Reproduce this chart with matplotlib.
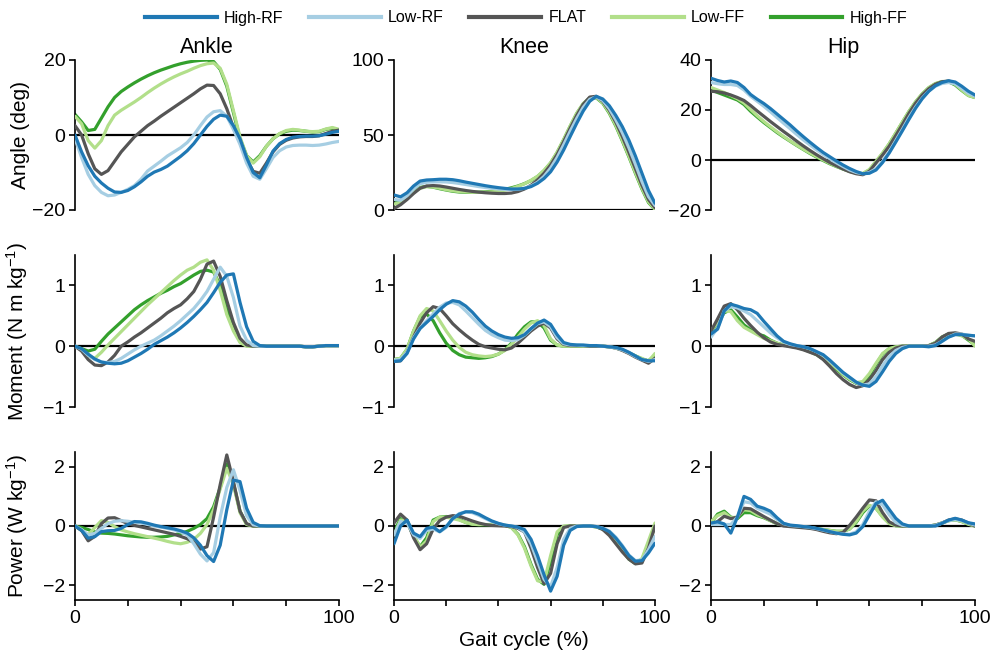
import numpy as np
import matplotlib
matplotlib.use("Agg")
import matplotlib.pyplot as plt
from matplotlib.lines import Line2D

plt.rcParams['font.family'] = ['Liberation Sans', 'DejaVu Sans']
plt.rcParams['mathtext.default'] = 'regular'

# gait cycle sampling (%), every 2.5 %
GAIT = np.arange(0, 100.01, 2.5)

CONDITIONS = ["High-RF", "Low-RF", "FLAT", "Low-FF", "High-FF"]
COLORS = {"High-RF": "#1f78b4", "Low-RF": "#a6cee3", "FLAT": "#555555",
          "Low-FF": "#b2df8a", "High-FF": "#33a02c"}

# ---- Ankle angle (deg)
ANKLE_ANGLE_HIGH_RF = [0, -4.5, -8.2, -11, -12.8, -14.2, -15.2, -15.3, -14.8, -13.8, -12.5, -11, -9.9, -9.2, -8.3, -7, -5.7, -4.2, -2.3, 0, 2.3,
                       4.2, 5.3, 5, 2.5, -1, -6, -10, -11.4, -8, -4.3, -2.3, -1.2, -0.6, -0.4, -0.3, -0.3, -0.2, 0.2, 0.7, 1]
ANKLE_ANGLE_LOW_RF = [-1, -6, -10.5, -13.5, -15.3, -16.2, -16, -15.3, -14.5, -13.5, -11.8, -9.6, -8.3, -7, -5.6, -4.5, -3.4, -2, 0, 2.5, 4.8,
                      6.2, 6.5, 5, 1.5, -2.5, -7.5, -11, -11.8, -9, -6, -4.2, -3.2, -2.8, -2.7, -2.7, -2.8, -2.7, -2.4, -2, -1.7]
ANKLE_ANGLE_FLAT = [2.5, 0, -5, -9, -10.5, -9.5, -7, -4.5, -2.5, -0.5, 1, 2.5, 3.7, 5, 6.2, 7.4, 8.6, 9.8, 11, 12.3, 13.3,
                    13.2, 11, 7, 2, -2, -6.5, -9.7, -10.2, -7.5, -4.5, -2.5, -1.4, -0.8, -0.5, -0.4, -0.4, -0.2, 0.4, 1, 1.3]
ANKLE_ANGLE_LOW_FF = [5, 3, -1.5, -3.5, -1.5, 2.5, 5.3, 6.6, 7.7, 8.8, 10, 11.3, 12.5, 13.6, 14.6, 15.5, 16.3, 17, 17.8, 18.5, 19,
                      19.2, 17.8, 13.5, 6.5, -0.5, -5.5, -7.5, -5.8, -3, -1, 0.4, 1.2, 1.5, 1.3, 1, 0.9, 1, 1.6, 2, 1.5]
ANKLE_ANGLE_HIGH_FF = [5.5, 3.5, 1.2, 1.5, 4.5, 7.5, 10, 11.6, 12.8, 13.9, 14.9, 15.8, 16.6, 17.3, 17.9, 18.5, 19, 19.4, 19.7, 19.9, 20,
                       19.6, 17.5, 13, 6, -1, -5.5, -7.2, -5.5, -3, -1, 0.3, 1, 1.3, 1.2, 1, 0.8, 0.9, 1.5, 1.8, 1.3]

# ---- Knee angle (deg)
KNEE_ANGLE_HIGH_RF = [10, 8.8, 11.5, 16, 19.3, 20, 20.2, 20.5, 20.5, 20.2, 19.5, 18.6, 17.8, 17, 16.2, 15.5, 14.9, 14.4, 14, 14, 14.4,
                      15.6, 17.8, 21, 25.5, 32, 40, 49, 57.8, 66, 72.5, 75.8, 74, 69.5, 63, 55.5, 46.5, 36, 24.5, 13, 4.5]
KNEE_ANGLE_LOW_RF = [7, 6.5, 9.5, 14, 17.5, 18.5, 18.7, 18.8, 18.7, 18.3, 17.7, 17, 16.3, 15.6, 15, 14.5, 14, 13.7, 13.6, 13.8, 14.5,
                     16, 18.5, 22.5, 28, 35, 43.5, 52.5, 61, 68.5, 73.8, 75.5, 73, 67.5, 60, 51.5, 41.5, 30.5, 19, 9, 3]
KNEE_ANGLE_FLAT = [1, 3.5, 7, 11, 14.5, 16, 16.3, 16, 15.3, 14.5, 13.7, 13, 12.4, 11.9, 11.5, 11.2, 11, 11, 11.3, 12.3, 14,
                   16.5, 20, 24.5, 30, 37, 45.5, 54.5, 63, 70.5, 75.3, 75.8, 72.5, 66.5, 58.5, 49, 38.5, 27.5, 16.5, 7, 1.5]
KNEE_ANGLE_LOW_FF = [4, 5, 8, 11.5, 14.5, 15.5, 15.3, 14.5, 13.5, 12.8, 12.3, 12, 11.8, 11.8, 11.9, 12.1, 12.5, 13.2, 14.3, 15.8, 17.5,
                     19.8, 22.5, 26.5, 31.5, 38.5, 47, 56, 64.5, 71, 74.8, 75, 71.5, 65, 56.5, 46.5, 36, 25, 14.5, 5.5, 0.5]
KNEE_ANGLE_HIGH_FF = [5, 6, 9, 12.5, 15, 15.8, 15.2, 14.2, 13.3, 12.5, 12, 11.8, 11.8, 11.9, 12.1, 12.5, 13, 13.8, 14.8, 16, 17.6,
                      19.6, 22.3, 26.2, 31.3, 38.3, 46.8, 55.8, 64.3, 70.8, 74.5, 74.8, 71.2, 64.5, 56, 46, 35.5, 24.5, 14, 5, 0.3]

# ---- Hip angle (deg)
HIP_ANGLE_HIGH_RF = [32.7, 31.8, 31.2, 31.6, 31, 29, 26.2, 24.3, 22.6, 20.6, 18.4, 16.2, 14, 11.6, 9.3, 7.1, 5, 3, 1.3, -0.4, -2,
                     -3.4, -4.6, -5.5, -5.3, -4, -1, 2.8, 7.2, 11.7, 16.3, 20.7, 24.5, 27.5, 29.7, 31, 31.7, 31.2, 29.5, 27.5, 26]
HIP_ANGLE_LOW_RF = [31, 30.5, 30.2, 30.2, 29.8, 28, 25.5, 23.5, 21.5, 19.3, 17, 14.7, 12.5, 10.2, 8, 6, 4, 2.2, 0.5, -1.1, -2.6,
                    -4, -5, -5.5, -5, -3.5, -0.5, 3.3, 7.8, 12.3, 17, 21.2, 24.8, 27.6, 29.5, 30.6, 31, 30.5, 28.7, 26.7, 25.5]
HIP_ANGLE_FLAT = [27.5, 27.3, 26.8, 26, 25, 23.8, 21.8, 19.6, 17.5, 15.4, 13.4, 11.4, 9.5, 7.5, 5.6, 3.8, 2.1, 0.5, -1, -2.3, -3.6,
                  -4.7, -5.5, -5.9, -4.5, -1.2, 2, 5.5, 9.8, 14.2, 18.7, 22.7, 26, 28.5, 30.3, 31.3, 31.6, 30.8, 29, 27, 25.6]
HIP_ANGLE_LOW_FF = [29, 28, 27, 25.8, 24.5, 22.8, 20.2, 17.7, 15.4, 13.3, 11.3, 9.4, 7.6, 5.9, 4.3, 2.8, 1.4, 0, -1.3, -2.5, -3.6,
                    -4.6, -5.3, -5.4, -3.8, -0.5, 2.8, 6.5, 10.8, 15.2, 19.5, 23.3, 26.5, 29, 30.6, 31.4, 31.4, 30.3, 28, 25.8, 25]
HIP_ANGLE_HIGH_FF = [28, 27, 26, 25, 24, 22.2, 19.5, 17.2, 15, 13, 11, 9.2, 7.5, 5.8, 4.2, 2.6, 1.2, -0.2, -1.5, -2.6, -3.6,
                     -4.5, -5.2, -5.5, -4, -0.8, 2.6, 6.4, 10.7, 15.1, 19.4, 23.2, 26.4, 28.9, 30.5, 31.3, 31.3, 30, 27.8, 25.8, 25]

# ---- Ankle moment (N m kg-1)
ANKLE_MOMENT_HIGH_RF = [0, -0.04, -0.13, -0.21, -0.26, -0.28, -0.29, -0.28, -0.24, -0.18, -0.12, -0.05, 0.03, 0.09, 0.15, 0.22, 0.3, 0.39, 0.49, 0.6, 0.72,
                        0.88, 1.05, 1.17, 1.19, 0.72, 0.32, 0.08, 0.01, 0, 0, 0, 0, 0, 0, -0.01, -0.01, 0, 0.01, 0.01, 0.01]
ANKLE_MOMENT_LOW_RF = [0, -0.05, -0.15, -0.22, -0.26, -0.27, -0.25, -0.2, -0.13, -0.06, 0, 0.05, 0.1, 0.17, 0.25, 0.33, 0.42, 0.52, 0.62, 0.75, 0.9,
                       1.1, 1.3, 1.15, 0.8, 0.33, 0.1, 0.01, 0, 0, 0, 0, 0, 0, 0, -0.01, -0.01, 0, 0.01, 0.01, 0.01]
ANKLE_MOMENT_FLAT = [0, -0.08, -0.22, -0.31, -0.32, -0.26, -0.15, 0, 0.07, 0.15, 0.22, 0.3, 0.38, 0.46, 0.55, 0.62, 0.68, 0.78, 0.9, 1.1, 1.35,
                     1.4, 1.15, 0.75, 0.39, 0.13, 0.02, 0, 0, 0, 0, 0, 0, 0, 0, -0.01, -0.01, 0, 0.01, 0.01, 0.01]
ANKLE_MOMENT_LOW_FF = [0, -0.06, -0.16, -0.2, -0.1, 0.02, 0.13, 0.24, 0.35, 0.46, 0.57, 0.68, 0.78, 0.88, 0.98, 1.08, 1.17, 1.25, 1.3, 1.38, 1.42,
                       1.25, 0.92, 0.52, 0.25, 0.06, 0, 0, 0, 0, 0, 0, 0, 0, 0, -0.01, -0.01, 0, 0.01, 0.01, 0.01]
ANKLE_MOMENT_HIGH_FF = [0, -0.04, -0.08, -0.05, 0.08, 0.2, 0.3, 0.4, 0.5, 0.6, 0.68, 0.75, 0.81, 0.87, 0.92, 0.98, 1.03, 1.1, 1.17, 1.23, 1.25,
                        1.22, 1.0, 0.6, 0.3, 0.08, 0.01, 0, 0, 0, 0, 0, 0, 0, 0, -0.01, -0.01, 0, 0.01, 0.01, 0.01]

# ---- Knee moment (N m kg-1)
KNEE_MOMENT_HIGH_RF = [-0.25, -0.24, -0.12, 0.12, 0.29, 0.39, 0.49, 0.6, 0.69, 0.75, 0.73, 0.66, 0.56, 0.44, 0.33, 0.25, 0.19, 0.15, 0.13, 0.14, 0.19,
                       0.29, 0.38, 0.43, 0.36, 0.19, 0.06, 0.03, 0.02, 0.02, 0.01, 0.01, 0, -0.01, -0.02, -0.05, -0.1, -0.16, -0.22, -0.24, -0.24]
KNEE_MOMENT_LOW_RF = [-0.23, -0.22, -0.1, 0.14, 0.3, 0.42, 0.53, 0.64, 0.71, 0.72, 0.68, 0.58, 0.47, 0.36, 0.26, 0.19, 0.14, 0.1, 0.09, 0.11, 0.18,
                      0.28, 0.37, 0.4, 0.32, 0.14, 0.04, 0.02, 0.02, 0.01, 0.01, 0.01, 0, -0.01, -0.03, -0.06, -0.11, -0.17, -0.22, -0.25, -0.22]
KNEE_MOMENT_FLAT = [-0.25, -0.24, -0.1, 0.15, 0.38, 0.55, 0.65, 0.62, 0.5, 0.37, 0.27, 0.18, 0.1, 0.03, -0.01, -0.03, -0.05, -0.06, -0.03, 0.05, 0.15,
                    0.25, 0.33, 0.38, 0.3, 0.12, 0.03, 0.01, 0.01, 0.01, 0, 0, 0, -0.01, -0.03, -0.07, -0.12, -0.18, -0.23, -0.28, -0.2]
KNEE_MOMENT_LOW_FF = [-0.22, -0.2, -0.05, 0.25, 0.5, 0.62, 0.58, 0.42, 0.25, 0.1, -0.02, -0.1, -0.14, -0.16, -0.17, -0.16, -0.13, -0.07, 0.03, 0.15, 0.28,
                      0.38, 0.42, 0.34, 0.12, 0.02, 0, 0, 0, 0, 0, 0, 0, -0.01, -0.03, -0.06, -0.11, -0.16, -0.2, -0.25, -0.12]
KNEE_MOMENT_HIGH_FF = [-0.22, -0.2, -0.05, 0.25, 0.48, 0.53, 0.42, 0.22, 0.05, -0.07, -0.14, -0.18, -0.19, -0.2, -0.19, -0.17, -0.13, -0.06, 0.05, 0.2, 0.32,
                       0.4, 0.4, 0.3, 0.1, 0.02, 0, 0, 0, 0, 0, 0, 0, -0.01, -0.03, -0.06, -0.11, -0.16, -0.21, -0.24, -0.15]

# ---- Hip moment (N m kg-1)
HIP_MOMENT_HIGH_RF = [0.2, 0.28, 0.58, 0.69, 0.66, 0.62, 0.6, 0.54, 0.41, 0.29, 0.17, 0.08, 0.04, 0.01, -0.01, -0.04, -0.09, -0.14, -0.23, -0.33, -0.43,
                      -0.51, -0.59, -0.64, -0.66, -0.58, -0.42, -0.25, -0.12, -0.04, 0, 0, 0, -0.01, 0.01, 0.08, 0.15, 0.19, 0.19, 0.18, 0.17]
HIP_MOMENT_LOW_RF = [0.15, 0.3, 0.58, 0.65, 0.63, 0.58, 0.52, 0.42, 0.32, 0.22, 0.14, 0.07, 0.03, 0.01, -0.01, -0.04, -0.09, -0.15, -0.24, -0.34, -0.44,
                     -0.52, -0.6, -0.64, -0.62, -0.5, -0.32, -0.17, -0.07, -0.02, 0, 0, 0, 0, 0.02, 0.08, 0.15, 0.2, 0.2, 0.18, 0.17]
HIP_MOMENT_FLAT = [0.25, 0.45, 0.66, 0.7, 0.6, 0.46, 0.34, 0.23, 0.14, 0.07, 0.03, 0.01, -0.01, -0.03, -0.06, -0.1, -0.14, -0.22, -0.33, -0.45, -0.55,
                   -0.63, -0.68, -0.65, -0.55, -0.4, -0.22, -0.1, -0.03, 0, 0, 0, 0, 0.01, 0.05, 0.15, 0.21, 0.22, 0.2, 0.12, 0.08]
HIP_MOMENT_LOW_FF = [0.25, 0.4, 0.58, 0.57, 0.42, 0.31, 0.25, 0.19, 0.13, 0.09, 0.05, 0.02, 0, -0.02, -0.05, -0.09, -0.14, -0.2, -0.27, -0.36, -0.46,
                     -0.54, -0.6, -0.58, -0.45, -0.28, -0.12, -0.04, -0.01, 0, 0, 0, 0, 0.01, 0.06, 0.15, 0.2, 0.2, 0.17, 0.12, 0]
HIP_MOMENT_HIGH_FF = [0.22, 0.38, 0.55, 0.6, 0.48, 0.35, 0.27, 0.2, 0.17, 0.1, 0.05, 0.02, 0, -0.02, -0.05, -0.09, -0.14, -0.21, -0.29, -0.38, -0.47,
                      -0.55, -0.61, -0.62, -0.48, -0.3, -0.13, -0.04, -0.01, 0, 0, 0, 0, 0.01, 0.06, 0.15, 0.2, 0.21, 0.18, 0.1, 0.02]

# ---- Ankle power (W kg-1)
ANKLE_POWER_HIGH_RF = [0, -0.15, -0.41, -0.36, -0.19, -0.16, -0.15, -0.08, 0.05, 0.15, 0.14, 0.09, 0.03, -0.02, -0.06, -0.1, -0.16, -0.24, -0.4, -0.65, -1.0,
                       -1.2, -0.65, 0.55, 1.55, 1.5, 0.6, 0.12, 0.01, 0, 0, 0, 0, 0, 0, 0, 0, 0, 0, 0, 0]
ANKLE_POWER_LOW_RF = [0, -0.12, -0.3, -0.25, -0.08, 0.08, 0.16, 0.18, 0.16, 0.13, 0.1, 0.05, 0, -0.04, -0.08, -0.13, -0.2, -0.3, -0.6, -0.95, -1.18,
                      -0.9, 0.3, 1.3, 1.9, 1.2, 0.35, 0.04, 0, 0, 0, 0, 0, 0, 0, 0, 0, 0, 0, 0, 0]
ANKLE_POWER_FLAT = [0, -0.15, -0.5, -0.35, 0.08, 0.27, 0.28, 0.18, 0.08, 0.02, -0.03, -0.08, -0.13, -0.18, -0.23, -0.28, -0.35, -0.43, -0.55, -0.78, -0.7,
                    0.3, 1.4, 2.4, 1.5, 0.5, 0.08, 0, 0, 0, 0, 0, 0, 0, 0, 0, 0, 0, 0, 0, 0]
ANKLE_POWER_LOW_FF = [0, -0.15, -0.3, -0.05, 0.18, 0.12, -0.02, -0.13, -0.2, -0.26, -0.31, -0.36, -0.41, -0.46, -0.52, -0.57, -0.6, -0.55, -0.45, -0.25, 0.05,
                      0.55, 1.25, 1.95, 1.4, 0.45, 0.05, 0, 0, 0, 0, 0, 0, 0, 0, 0, 0, 0, 0, 0, 0]
ANKLE_POWER_HIGH_FF = [0, -0.05, -0.12, -0.2, -0.24, -0.25, -0.27, -0.3, -0.33, -0.35, -0.37, -0.38, -0.38, -0.37, -0.35, -0.3, -0.25, -0.18, -0.08, 0.05, 0.25,
                       0.65, 1.3, 2.1, 1.45, 0.5, 0.06, 0, 0, 0, 0, 0, 0, 0, 0, 0, 0, 0, 0, 0, 0]

# ---- Knee power (W kg-1)
KNEE_POWER_HIGH_RF = [-0.6, 0, 0.2, -0.24, -0.36, -0.08, -0.04, -0.19, -0.02, 0.25, 0.4, 0.48, 0.48, 0.4, 0.28, 0.17, 0.09, 0.03, 0, -0.04, -0.12,
                      -0.45, -1.0, -1.65, -2.2, -1.7, -0.65, -0.15, -0.02, 0, 0, -0.02, -0.08, -0.19, -0.41, -0.69, -1.0, -1.19, -1.17, -0.91, -0.58]
KNEE_POWER_LOW_RF = [-0.3, 0.15, 0.1, -0.3, -0.42, -0.15, -0.1, -0.2, -0.05, 0.25, 0.42, 0.48, 0.45, 0.36, 0.25, 0.15, 0.08, 0.03, 0, -0.05, -0.2,
                     -0.6, -1.2, -1.8, -2.05, -1.4, -0.45, -0.08, 0, 0, 0, -0.02, -0.07, -0.17, -0.38, -0.66, -0.98, -1.17, -1.15, -0.8, -0.35]
KNEE_POWER_FLAT = [0.1, 0.4, 0.2, -0.4, -0.8, -0.6, -0.1, 0.18, 0.3, 0.35, 0.33, 0.25, 0.17, 0.1, 0.05, 0.02, 0.01, 0, -0.02, -0.08, -0.2,
                   -0.75, -1.4, -1.95, -1.6, -0.6, -0.05, 0, 0, 0, 0, -0.02, -0.12, -0.32, -0.6, -0.88, -1.12, -1.28, -1.25, -0.75, 0]
KNEE_POWER_LOW_FF = [-0.3, 0.2, 0.2, -0.3, -0.72, -0.5, 0.15, 0.3, 0.3, 0.25, 0.2, 0.12, 0.06, 0.05, 0.05, 0.05, 0.05, 0.03, -0.05, -0.3, -0.75,
                     -1.35, -1.85, -1.9, -1.0, -0.2, 0, 0, 0, 0, 0, -0.03, -0.1, -0.28, -0.5, -0.8, -1.1, -1.25, -1.1, -0.5, 0.1]
KNEE_POWER_HIGH_FF = [-0.2, 0.25, 0.15, -0.35, -0.7, -0.4, 0.2, 0.3, 0.32, 0.3, 0.22, 0.12, 0.06, 0.04, 0.04, 0.04, 0.04, 0.02, -0.05, -0.28, -0.7,
                      -1.3, -1.8, -1.97, -1.2, -0.3, -0.02, 0, 0, 0, 0, -0.03, -0.1, -0.28, -0.52, -0.82, -1.12, -1.27, -1.15, -0.6, 0]

# ---- Hip power (W kg-1)
HIP_POWER_HIGH_RF = [0.1, 0.14, 0.07, -0.24, 0.3, 1.0, 0.9, 0.67, 0.6, 0.5, 0.28, 0.09, 0.03, 0.01, -0.02, -0.04, -0.08, -0.13, -0.19, -0.24, -0.28,
                     -0.3, -0.24, -0.02, 0.37, 0.76, 0.87, 0.56, 0.26, 0.07, 0, 0, 0, 0, 0, 0.09, 0.2, 0.26, 0.2, 0.11, 0.07]
HIP_POWER_LOW_RF = [0.05, 0.05, 0.05, 0.05, 0.3, 0.82, 0.78, 0.6, 0.5, 0.4, 0.22, 0.08, 0.02, 0, -0.02, -0.05, -0.09, -0.14, -0.19, -0.24, -0.27,
                    -0.28, -0.2, 0.05, 0.5, 0.82, 0.72, 0.38, 0.12, 0.02, 0, 0, 0, 0, 0.02, 0.1, 0.18, 0.22, 0.18, 0.1, 0.03]
HIP_POWER_FLAT = [0.05, 0.15, 0.33, 0.25, 0.3, 0.6, 0.58, 0.45, 0.32, 0.2, 0.08, 0, -0.02, -0.04, -0.06, -0.08, -0.12, -0.18, -0.23, -0.26, -0.22,
                  0.02, 0.3, 0.6, 0.88, 0.85, 0.45, 0.14, 0.03, 0, 0, 0, 0, 0, 0.03, 0.1, 0.2, 0.24, 0.2, 0.1, 0]
HIP_POWER_LOW_FF = [0.15, 0.35, 0.45, 0.28, 0.3, 0.55, 0.52, 0.38, 0.3, 0.18, 0.08, 0.03, 0, -0.02, -0.04, -0.06, -0.09, -0.12, -0.15, -0.18, -0.18,
                    -0.1, 0.15, 0.5, 0.7, 0.6, 0.3, 0.08, 0.01, 0, 0, 0, 0, 0, 0.03, 0.1, 0.18, 0.21, 0.15, 0.06, 0]
HIP_POWER_HIGH_FF = [0.1, 0.4, 0.5, 0.3, 0.25, 0.45, 0.45, 0.35, 0.28, 0.18, 0.08, 0.03, 0, -0.02, -0.04, -0.06, -0.09, -0.12, -0.15, -0.18, -0.18,
                     -0.1, 0.12, 0.45, 0.68, 0.6, 0.32, 0.1, 0.01, 0, 0, 0, 0, 0, 0.03, 0.1, 0.18, 0.21, 0.15, 0.06, 0]

PANELS = [
    [[ANKLE_ANGLE_HIGH_RF, ANKLE_ANGLE_LOW_RF, ANKLE_ANGLE_FLAT, ANKLE_ANGLE_LOW_FF, ANKLE_ANGLE_HIGH_FF],
     [KNEE_ANGLE_HIGH_RF, KNEE_ANGLE_LOW_RF, KNEE_ANGLE_FLAT, KNEE_ANGLE_LOW_FF, KNEE_ANGLE_HIGH_FF],
     [HIP_ANGLE_HIGH_RF, HIP_ANGLE_LOW_RF, HIP_ANGLE_FLAT, HIP_ANGLE_LOW_FF, HIP_ANGLE_HIGH_FF]],
    [[ANKLE_MOMENT_HIGH_RF, ANKLE_MOMENT_LOW_RF, ANKLE_MOMENT_FLAT, ANKLE_MOMENT_LOW_FF, ANKLE_MOMENT_HIGH_FF],
     [KNEE_MOMENT_HIGH_RF, KNEE_MOMENT_LOW_RF, KNEE_MOMENT_FLAT, KNEE_MOMENT_LOW_FF, KNEE_MOMENT_HIGH_FF],
     [HIP_MOMENT_HIGH_RF, HIP_MOMENT_LOW_RF, HIP_MOMENT_FLAT, HIP_MOMENT_LOW_FF, HIP_MOMENT_HIGH_FF]],
    [[ANKLE_POWER_HIGH_RF, ANKLE_POWER_LOW_RF, ANKLE_POWER_FLAT, ANKLE_POWER_LOW_FF, ANKLE_POWER_HIGH_FF],
     [KNEE_POWER_HIGH_RF, KNEE_POWER_LOW_RF, KNEE_POWER_FLAT, KNEE_POWER_LOW_FF, KNEE_POWER_HIGH_FF],
     [HIP_POWER_HIGH_RF, HIP_POWER_LOW_RF, HIP_POWER_FLAT, HIP_POWER_LOW_FF, HIP_POWER_HIGH_FF]],
]

JOINTS = ["Ankle", "Knee", "Hip"]
ROW_LABELS = ["Angle (deg)", "Moment (N m kg$^{-1}$)", "Power (W kg$^{-1}$)"]
YLIMS = [[(-20, 20), (0, 100), (-20, 40)], [(-1, 1.5)] * 3, [(-2.5, 2.5)] * 3]
YTICKS = [[[-20, 0, 20], [0, 50, 100], [-20, 0, 20, 40]], [[-1, 0, 1]] * 3, [[-2, 0, 2]] * 3]

# axes boxes in pixels of the 990x653 figure
W, H = 990, 653
COL_X = [(75, 339), (394, 655), (711, 975)]
ROW_Y = [(60, 210), (255, 407), (452, 600)]

fig = plt.figure(figsize=(9.9, 6.53), dpi=100)

for r in range(3):
    for c in range(3):
        x0, x1 = COL_X[c]
        y0, y1 = ROW_Y[r]
        ax = fig.add_axes([x0 / W, 1 - y1 / H, (x1 - x0) / W, (y1 - y0) / H])
        ax.axhline(0, color="black", lw=1.6, zorder=1)
        # draw FF first, RF on top
        for k in range(4, -1, -1):
            ax.plot(GAIT, PANELS[r][c][k], color=COLORS[CONDITIONS[k]], lw=2.3,
                    solid_capstyle="round", solid_joinstyle="round",
                    zorder=2 + (4 - k))
        ax.set_xlim(0, 100)
        ax.set_ylim(*YLIMS[r][c])
        ax.set_yticks(YTICKS[r][c])
        for s in ["top", "right"]:
            ax.spines[s].set_visible(False)
        ax.spines["left"].set_linewidth(1.2)
        ax.tick_params(axis="both", direction="out", length=4, width=1.2,
                       labelsize=14, pad=3)
        if r < 2:
            ax.spines["bottom"].set_visible(False)
            ax.tick_params(axis="x", bottom=False, labelbottom=False)
        else:
            ax.spines["bottom"].set_linewidth(1.2)
            ax.set_xticks([0, 20, 40, 60, 80, 100])
            ax.set_xticklabels(["0", "", "", "", "", "100"])
        if r == 0:
            ax.set_title(JOINTS[c], fontsize=15.5, pad=5)
        if c == 0:
            ax.set_ylabel(ROW_LABELS[r], fontsize=15)
            ax.yaxis.set_label_coords(-0.17, 0.5)

fig.text(524 / W, 1 - 641 / H, "Gait cycle (%)", ha="center", va="center", fontsize=15)

handles = [Line2D([], [], color=COLORS[n], lw=3) for n in CONDITIONS]
fig.legend(handles, CONDITIONS, loc="center", bbox_to_anchor=(526 / W, 1 - 18 / H),
           ncol=5, frameon=False, fontsize=11.5, handlelength=4.5,
           handletextpad=0.45, columnspacing=1.6)

fig.savefig("out.png", dpi=100)
